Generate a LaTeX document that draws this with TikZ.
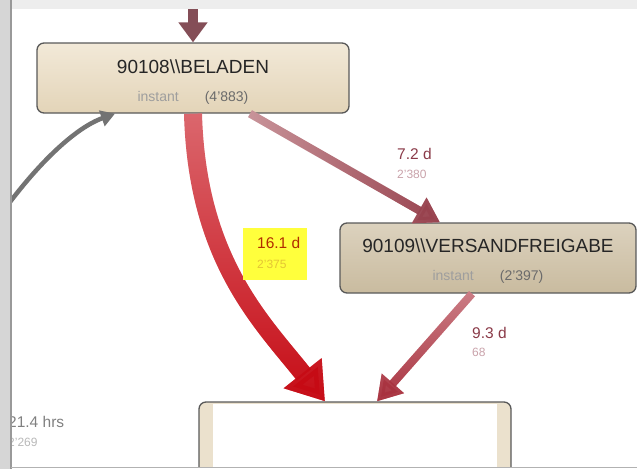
\documentclass[tikz,border=0pt]{standalone}
\usepackage{fontspec}
\setmainfont{Liberation Sans}
\usetikzlibrary{arrows.meta,fadings}
\definecolor{actlight}{HTML}{F2E9D8}
\definecolor{actdark}{HTML}{E3D4B8}
\definecolor{freiglight}{HTML}{DCD2BE}
\definecolor{freigdark}{HTML}{C9BB9F}
\definecolor{durred}{HTML}{8A3A48}
\definecolor{freqpink}{HTML}{C9A2AA}
\definecolor{hilite}{HTML}{FFFF3C}
\definecolor{hotred}{HTML}{C60A14}
\definecolor{hotpink}{HTML}{DC6A70}
\definecolor{warmred}{HTML}{A8323F}
\definecolor{warmpink}{HTML}{CC7E86}
\definecolor{mauve}{HTML}{98424E}
\definecolor{mauvelight}{HTML}{C9959B}
\tikzstyle{activity}=[rectangle,draw=black!65,line width=1.3pt,rounded corners=7pt,minimum width=312pt,minimum height=70pt,align=center,text=black!85,font=\fontsize{19}{28}\selectfont]
\tikzstyle{flow}=[line width=8pt,-{Triangle[length=24pt,width=28pt]}]
\tikzstyle{dur}=[anchor=west,inner sep=0pt,font=\fontsize{15.5}{18}\selectfont,text=durred]
\tikzstyle{freq}=[anchor=west,inner sep=0pt,font=\fontsize{12}{14}\selectfont,text=freqpink]
\newcommand{\stats}[1]{{\fontsize{14}{28}\selectfont\color{black!38}instant\hspace{26pt}\color{black!58}(#1)}}

\begin{document}
\begin{tikzpicture}[x=1pt,y=-1pt]
  \useasboundingbox (0,0) rectangle (637,469);
  % window frame
  \fill[black!16] (0,0) rectangle (11,469);
  \fill[black!7] (11,0) rectangle (637,9);
  \begin{scope}
    \clip (11,9) rectangle (637,467);
    \node[activity,top color=actlight,bottom color=actdark] (bel) at (193,78)
      {\rule{0pt}{22pt}90108\textbackslash\textbackslash BELADEN\\\stats{4'883}};
    \node[activity,minimum width=296pt,top color=freiglight,bottom color=freigdark] (frei) at (488,258)
      {\rule{0pt}{20pt}90109\textbackslash\textbackslash VERSANDFREIGABE\\\stats{2'397}};
    \node[activity,minimum height=80pt,fill=actdark!70] (next) at (355,442) {};
    \fill[white] (213,404) rectangle (497,469);
    \coordinate (top) at (193,-2);
    \coordinate (loop) at (-6,224);
    % arcs
    \draw[flow,line width=10pt,color=black!20!durred!85,-{Triangle[length=20pt,width=28pt]}] (top) -- (bel.north);
    \draw[flow,color=mauvelight] ([xshift=57pt]bel.south) -- ([xshift=-48pt]frei.north);
    \draw[flow,color=mauve,path fading=west] ([xshift=57pt]bel.south) -- ([xshift=-48pt]frei.north);
    \draw[flow,line width=18pt,color=hotpink,-{Triangle[length=36pt,width=46pt]}]
      (bel.south) .. controls (197,260) and (262,322) .. ([xshift=-30pt]next.north);
    \draw[flow,line width=18pt,color=hotred,path fading=north,-{Triangle[length=36pt,width=46pt]}]
      (bel.south) .. controls (197,260) and (262,322) .. ([xshift=-30pt]next.north);
    \draw[flow,color=warmpink] ([xshift=-16pt]frei.south) -- ([xshift=22pt]next.north);
    \draw[flow,color=warmred,path fading=north] ([xshift=-16pt]frei.south) -- ([xshift=22pt]next.north);
    \draw[flow,line width=4.5pt,color=black!55,-{Triangle[length=14pt,width=16pt]}]
      (loop) .. controls (35,165) and (75,128) .. ([xshift=-78pt]bel.south);
    % labels
    \node[dur] (d72) at (397,154) {7.2 d};
    \node[freq] (f72) at (397,174) {2'380};
    \fill[hilite] (243,228) rectangle (307,280);
    \node[dur,text=orange!50!red!70!black] (d161) at (257,243) {16.1 d};
    \node[freq,text=yellow!55!brown] (f161) at (257,264) {2'375};
    \node[dur] (d93) at (472,333) {9.3 d};
    \node[freq] (f93) at (472,352) {68};
    \node[dur,text=black!50] (d214) at (8,422) {21.4 hrs};
    \node[freq,text=black!28] (f214) at (8,442) {2'269};
  \end{scope}
  \draw[black!40,line width=2pt] (11,0) -- (11,469);
  \draw[black!30,line width=1pt] (11,467.5) -- (637,467.5);
\end{tikzpicture}
\end{document}
